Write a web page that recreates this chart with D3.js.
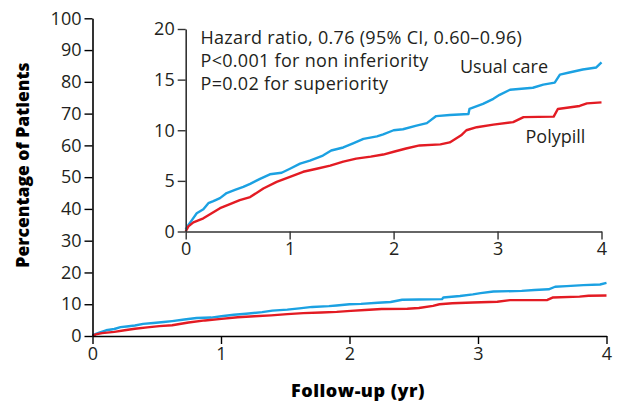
<!DOCTYPE html>
<html><head><meta charset="utf-8">
<script src="https://cdn.jsdelivr.net/npm/d3@7"></script>
<style>
body{margin:0;background:#fff;}
text{font-family:"Open Sans",Lato,sans-serif;}
</style></head>
<body><svg id="c" width="617" height="405"></svg>
<script>
// Data (years, cumulative % of patients)
const usualTimes = [0,0.026,0.058,0.106,0.17,0.218,0.266,0.33,0.394,0.474,0.554,0.62,0.715,0.81,0.923,1.003,1.1,1.195,1.32,1.4,1.516,1.61,1.71,1.84,1.9,2.0,2.09,2.22,2.32,2.41,2.54,2.72,2.73,2.86,2.96,3.02,3.12,3.34,3.44,3.55,3.6,3.69,3.82,3.95,4.0];
const usualValues = [0.2,0.65,1.1,1.8,2.2,2.8,3.0,3.3,3.8,4.1,4.4,4.7,5.2,5.65,5.8,6.2,6.7,7.0,7.5,8.0,8.3,8.7,9.15,9.4,9.6,10.0,10.1,10.45,10.7,11.4,11.5,11.6,12.1,12.6,13.1,13.5,14.0,14.2,14.5,14.7,15.5,15.7,16.0,16.2,16.7];
const polyTimes = [0,0.026,0.074,0.17,0.25,0.33,0.426,0.52,0.62,0.747,0.875,1.003,1.13,1.26,1.39,1.516,1.64,1.78,1.9,2.01,2.12,2.25,2.45,2.54,2.65,2.7,2.8,2.96,3.15,3.25,3.54,3.58,3.79,3.86,4.0];
const polyValues = [0,0.5,0.9,1.3,1.8,2.3,2.7,3.1,3.4,4.25,4.9,5.4,5.9,6.2,6.5,6.9,7.2,7.4,7.6,7.9,8.2,8.5,8.6,8.8,9.5,10.0,10.3,10.55,10.8,11.3,11.35,12.1,12.4,12.65,12.75];
const xTicks = [0,1,2,3,4];
const mainYTicks = [0,10,20,30,40,50,60,70,80,90,100];
const insetYTicks = [0,5,10,15,20];
const seriesNames = ["Usual care","Polypill"];
const annotation = ["Hazard ratio, 0.76 (95% CI, 0.60–0.96)","P<0.001 for non inferiority","P=0.02 for superiority"];

const BLUE = "#1ba1e2", RED = "#e31b23";
const usual = usualTimes.map((t,i)=>({t, v:usualValues[i]}));
const poly = polyTimes.map((t,i)=>({t, v:polyValues[i]}));

const svg = d3.select("#c");

function drawAxes(g, x, y, yTicks, color){
  const xa = g.append("g").attr("transform",`translate(0,${y.range()[0]})`)
    .call(d3.axisBottom(x).tickValues(xTicks).tickSize(8).tickPadding(3).tickSizeOuter(0).tickFormat(d3.format("d")));
  const ya = g.append("g").attr("transform",`translate(${x.range()[0]},0)`)
    .call(d3.axisLeft(y).tickValues(yTicks).tickSize(8).tickPadding(3).tickSizeOuter(0).tickFormat(d3.format("d")));
  [xa,ya].forEach(a=>{
    a.select(".domain").attr("stroke",color).attr("stroke-width",1.6);
    a.selectAll(".tick line").attr("stroke",color).attr("stroke-width",1.4);
    a.selectAll(".tick text").attr("fill","#231f20").style("font-size","18px").style("font-family","'Open Sans', sans-serif");
  });
}
function drawLines(g, x, y, w){
  const line = d3.line().x(d=>x(d.t)).y(d=>y(d.v)).curve(d3.curveLinear);
  g.append("path").datum(usual).attr("d",line).attr("fill","none").attr("stroke",BLUE).attr("stroke-width",w).attr("stroke-linejoin","round");
  g.append("path").datum(poly).attr("d",line).attr("fill","none").attr("stroke",RED).attr("stroke-width",w).attr("stroke-linejoin","round");
}

// Main chart
const mx = d3.scaleLinear().domain([0,4]).range([92.5,606.5]);
const my = d3.scaleLinear().domain([0,100]).range([336,18.3]);
const gm = svg.append("g");
drawLines(gm, mx, my, 2.4);
drawAxes(gm, mx, my, mainYTicks, "#000");

// Inset
const ix = d3.scaleLinear().domain([0,4]).range([185.7,601.5]);
const iy = d3.scaleLinear().domain([0,20]).range([231.5,29]);
const gi = svg.append("g");
gi.append("rect").attr("x",ix(0)).attr("y",iy(20)).attr("width",ix(4)-ix(0)).attr("height",iy(0)-iy(20)).attr("fill","#fff");
drawLines(gi, ix, iy, 2.4);
drawAxes(gi, ix, iy, insetYTicks, "#333");

// Annotation
gi.append("g").selectAll("text").data(annotation).join("text")
  .attr("x",200.5).attr("y",(d,i)=>43.5+i*23).attr("fill","#231f20")
  .style("font-size","18px").style("letter-spacing","0.3px").text(d=>d);
gi.append("text").attr("x",460).attr("y",72.5).attr("fill","#231f20").style("font-size","18px").text(seriesNames[0]);
gi.append("text").attr("x",525.5).attr("y",143).attr("fill","#231f20").style("font-size","18px").text(seriesNames[1]);

// Axis titles
svg.append("text").attr("transform","translate(29,165) rotate(-90)").attr("text-anchor","middle")
  .attr("fill","#000").style("font-size","17.5px").style("font-weight","800").text("Percentage of Patients");
svg.append("text").attr("x",358).attr("y",397).attr("text-anchor","middle")
  .attr("fill","#000").style("font-size","18px").style("font-weight","800").style("letter-spacing","0.5px").text("Follow-up (yr)");
</script></body></html>
